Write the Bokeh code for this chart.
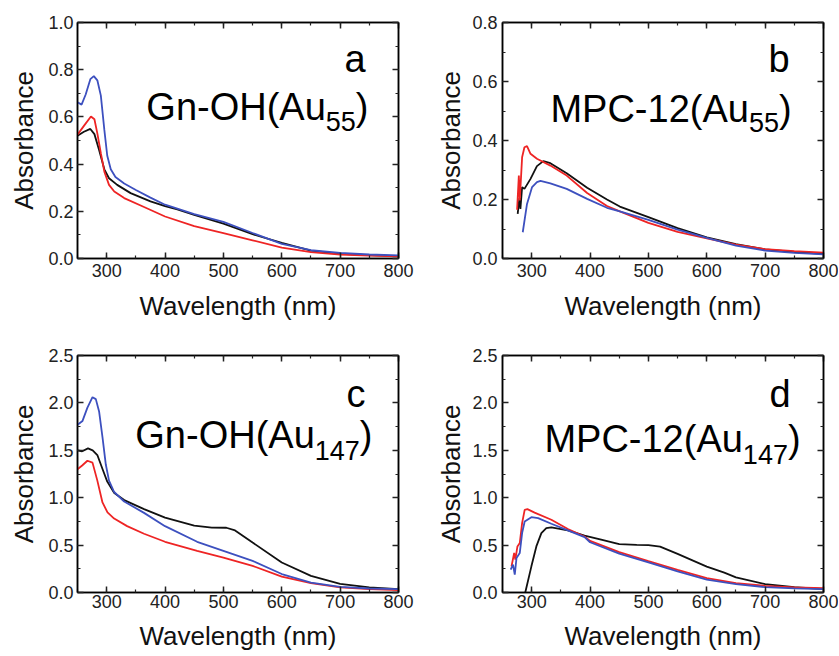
from bokeh.plotting import figure
from bokeh.models import Range1d, LinearAxis, SingleIntervalTicker, PrintfTickFormatter, Label
from bokeh.layouts import gridplot
from bokeh.embed import file_html
from bokeh.resources import INLINE

# ---------------- data ----------------
# Panel a: Gn-OH(Au55)
a_blue_wl = [250, 257, 264, 272, 278, 284, 290, 296, 301, 307, 315, 330, 350, 375, 400, 450, 500, 550, 600, 650, 700, 750, 800]
a_blue_abs = [0.662, 0.652, 0.695, 0.760, 0.773, 0.755, 0.690, 0.545, 0.435, 0.378, 0.345, 0.318, 0.290, 0.258, 0.228, 0.188, 0.155, 0.108, 0.062, 0.035, 0.024, 0.017, 0.013]
a_black_wl = [250, 261, 272, 279, 287, 296, 304, 318, 341, 375, 400, 421, 450, 500, 550, 600, 650, 700, 750, 800]
a_black_abs = [0.52, 0.537, 0.549, 0.527, 0.46, 0.378, 0.34, 0.312, 0.277, 0.242, 0.222, 0.208, 0.185, 0.148, 0.103, 0.066, 0.033, 0.02, 0.014, 0.01]
a_red_wl = [250, 261, 273, 279, 284, 290, 296, 304, 313, 330, 364, 400, 450, 500, 550, 600, 650, 700, 750, 800]
a_red_abs = [0.525, 0.562, 0.602, 0.59, 0.53, 0.446, 0.368, 0.312, 0.284, 0.256, 0.218, 0.178, 0.137, 0.108, 0.077, 0.046, 0.027, 0.017, 0.012, 0.009]

# Panel b: MPC-12(Au55)
b_red_wl = [275, 278, 279.6, 283.6, 287.6, 292, 298, 309, 332, 360, 395, 429, 451, 500, 550, 600, 650, 700, 750, 800]
b_red_abs = [0.165, 0.281, 0.197, 0.343, 0.377, 0.381, 0.355, 0.338, 0.315, 0.281, 0.222, 0.178, 0.16, 0.121, 0.09, 0.068, 0.047, 0.032, 0.025, 0.02]
b_black_wl = [276, 279, 280.7, 283.6, 287.6, 298, 309, 320, 332, 360, 395, 429, 451, 500, 550, 600, 650, 700, 750, 800]
b_black_abs = [0.151, 0.205, 0.168, 0.242, 0.236, 0.27, 0.313, 0.33, 0.323, 0.289, 0.24, 0.2, 0.176, 0.14, 0.103, 0.072, 0.049, 0.031, 0.022, 0.016]
b_blue_wl = [284.7, 292, 300.7, 309, 315, 332, 360, 395, 429, 451, 500, 550, 600, 650, 700, 750, 800]
b_blue_abs = [0.089, 0.185, 0.242, 0.259, 0.263, 0.255, 0.236, 0.202, 0.172, 0.16, 0.131, 0.098, 0.07, 0.044, 0.027, 0.019, 0.014]

# Panel c: Gn-OH(Au147)
c_blue_wl = [250, 258.6, 267, 275.7, 281.4, 287, 292.8, 298.5, 304, 312.8, 330, 364, 400, 455, 500, 550, 600, 650, 700, 750, 800]
c_blue_abs = [1.77, 1.81, 1.95, 2.06, 2.04, 1.91, 1.64, 1.35, 1.18, 1.06, 0.96, 0.84, 0.70, 0.535, 0.44, 0.334, 0.195, 0.105, 0.06, 0.042, 0.035]
c_black_wl = [250, 258, 268, 276, 284, 293, 301, 313, 330, 364, 400, 450, 480, 505, 520, 550, 600, 650, 700, 750, 800]
c_black_abs = [1.50, 1.49, 1.52, 1.50, 1.45, 1.30, 1.17, 1.05, 0.975, 0.88, 0.79, 0.705, 0.685, 0.683, 0.655, 0.527, 0.316, 0.176, 0.09, 0.053, 0.035]
c_red_wl = [250, 258, 267, 275.7, 284, 292.8, 301.4, 312.8, 335, 364, 400, 455, 500, 550, 600, 650, 700, 750, 800]
c_red_abs = [1.30, 1.34, 1.39, 1.37, 1.18, 0.95, 0.845, 0.78, 0.70, 0.62, 0.535, 0.44, 0.369, 0.281, 0.168, 0.098, 0.053, 0.035, 0.025]

# Panel d: MPC-12(Au147)
d_red_wl = [265.4, 270, 272, 275.6, 279.6, 283.6, 288, 292.7, 305, 333.7, 362, 390.6, 400, 450, 500, 550, 600, 650, 700, 750, 800]
d_red_abs = [0.276, 0.417, 0.347, 0.486, 0.522, 0.732, 0.872, 0.879, 0.843, 0.767, 0.669, 0.591, 0.545, 0.425, 0.33, 0.238, 0.152, 0.098, 0.07, 0.055, 0.046]
d_blue_wl = [264, 268, 271, 274, 279.6, 283.6, 288, 299.5, 311, 333.7, 362, 390.6, 400, 450, 500, 550, 600, 650, 700, 750, 800]
d_blue_abs = [0.242, 0.294, 0.189, 0.364, 0.417, 0.627, 0.749, 0.795, 0.785, 0.725, 0.655, 0.584, 0.53, 0.41, 0.318, 0.222, 0.135, 0.088, 0.057, 0.043, 0.035]
d_black_wl = [289, 299.5, 308, 316.6, 325, 333.7, 362, 390.6, 419, 450, 480, 500, 520, 550, 600, 630, 650, 700, 750, 800]
d_black_abs = [0.0, 0.276, 0.486, 0.627, 0.679, 0.686, 0.655, 0.599, 0.557, 0.51, 0.502, 0.5, 0.484, 0.407, 0.273, 0.21, 0.16, 0.088, 0.056, 0.035]

x_label = "Wavelength (nm)"
y_label = "Absorbance"

BLACK = "#111111"
RED = "#ee2424"
BLUE = "#3d50bf"
FONT = "Liberation Sans"


def style_axis(ax, show_labels, label_standoff=5):
    ax.axis_line_color = "black"
    ax.axis_line_width = 1.5
    ax.major_tick_in = 6
    ax.major_tick_out = 0
    ax.minor_tick_in = 3
    ax.minor_tick_out = 0
    ax.major_tick_line_width = 1.5
    ax.minor_tick_line_width = 1.2
    ax.major_tick_line_color = "#222222"
    ax.minor_tick_line_color = "#222222"
    if show_labels:
        ax.major_label_text_font = FONT
        ax.major_label_text_font_size = "18px"
        ax.major_label_text_color = "#222222"
        ax.major_label_standoff = label_standoff
        ax.axis_label_text_font = FONT
        ax.axis_label_text_font_size = "26px"
        ax.axis_label_text_font_style = "normal"
        ax.axis_label_text_color = "#111111"
    else:
        ax.major_label_text_font_size = "1px"
        ax.major_label_text_color = None
        ax.major_label_standoff = 0
        ax.axis_label = None


def make_panel(width, height, borders, ymax, yint, series, letter, letter_pos,
               title_main, title_sub, title_pos, sub_y, sub_w,
               xstand, xlabstand, ystand, ylabstand):
    left, right, top, bottom = borders
    p = figure(width=width, height=height, output_backend="svg", toolbar_location=None,
               x_range=Range1d(250, 800), y_range=Range1d(0, ymax),
               min_border_left=left, min_border_right=right,
               min_border_top=top, min_border_bottom=bottom)
    p.xgrid.visible = False
    p.ygrid.visible = False
    p.outline_line_color = "black"
    p.outline_line_width = 1.5
    p.background_fill_color = "white"
    p.border_fill_color = "white"

    xt = SingleIntervalTicker(interval=100, num_minor_ticks=2)
    yt = SingleIntervalTicker(interval=yint, num_minor_ticks=2)
    p.xaxis.ticker = xt
    p.yaxis.ticker = yt
    p.yaxis.formatter = PrintfTickFormatter(format="%.1f")
    p.xaxis.axis_label = x_label
    p.yaxis.axis_label = y_label
    style_axis(p.xaxis[0], True, xstand)
    style_axis(p.yaxis[0], True, ystand)
    p.xaxis.axis_label_standoff = xlabstand
    p.yaxis.axis_label_standoff = ylabstand

    top_ax = LinearAxis(ticker=SingleIntervalTicker(interval=100, num_minor_ticks=2))
    right_ax = LinearAxis(ticker=SingleIntervalTicker(interval=yint, num_minor_ticks=2))
    style_axis(top_ax, False)
    style_axis(right_ax, False)
    p.add_layout(top_ax, "above")
    p.add_layout(right_ax, "right")

    for wl, ab, col in series:
        p.line(wl, ab, line_color=col, line_width=1.8)

    # vertical nudges in pixels (positive = up)
    big_up = 9
    small_up = 6
    lx, ly = letter_pos
    p.add_layout(Label(x=lx, y=ly, y_offset=big_up, text=letter, text_font=FONT, text_font_size="38px",
                       text_align="right", text_baseline="alphabetic", text_color="black"))
    tx, ty = title_pos
    paren_w = 0.333 * 38
    p.add_layout(Label(x=tx, y=ty, y_offset=big_up, text=")", text_font=FONT, text_font_size="38px",
                       text_align="right", text_baseline="alphabetic", text_color="black"))
    p.add_layout(Label(x=tx, y=sub_y, x_offset=-paren_w, y_offset=small_up, text=title_sub, text_font=FONT,
                       text_font_size="27px", text_align="right", text_baseline="alphabetic",
                       text_color="black"))
    p.add_layout(Label(x=tx, y=ty, x_offset=-(paren_w + sub_w), y_offset=big_up, text=title_main,
                       text_font=FONT, text_font_size="38px", text_align="right",
                       text_baseline="alphabetic", text_color="black"))
    return p


pa = make_panel(420, 328, (77, 22, 22, 69), 1.0, 0.2,
                [(a_black_wl, a_black_abs, BLACK), (a_red_wl, a_red_abs, RED), (a_blue_wl, a_blue_abs, BLUE)],
                "a", (743.5, 0.806), "Gn-OH(Au", "55", (748.6, 0.603), 0.557, 2 * 0.556 * 27,
                5, 11, 4, 6)
pb = make_panel(418, 328, (82, 14, 22, 70), 0.8, 0.2,
                [(b_black_wl, b_black_abs, BLACK), (b_red_wl, b_red_abs, RED), (b_blue_wl, b_blue_abs, BLUE)],
                "b", (742.0, 0.647), "MPC-12(Au", "55", (745.3, 0.475), 0.441, 2 * 0.556 * 27,
                5, 11, 5, 3)
pc = make_panel(420, 327, (77, 22, 26, 63), 2.5, 0.5,
                [(c_black_wl, c_black_abs, BLACK), (c_red_wl, c_red_abs, RED), (c_blue_wl, c_blue_abs, BLUE)],
                "c", (743.5, 1.996), "Gn-OH(Au", "147", (755.4, 1.565), 1.439, 3 * 0.556 * 27,
                2, 10, 4, 6)
pd = make_panel(418, 327, (81, 15, 27, 62), 2.5, 0.5,
                [(d_black_wl, d_black_abs, BLACK), (d_red_wl, d_red_abs, RED), (d_blue_wl, d_blue_abs, BLUE)],
                "d", (743.6, 1.996), "MPC-12(Au", "147", (760.7, 1.523), 1.397, 3 * 0.556 * 27,
                2, 10, 5, 3)

grid = gridplot([[pa, pb], [pc, pd]], toolbar_location=None)

open("out.html", "w").write(file_html(grid, INLINE))
